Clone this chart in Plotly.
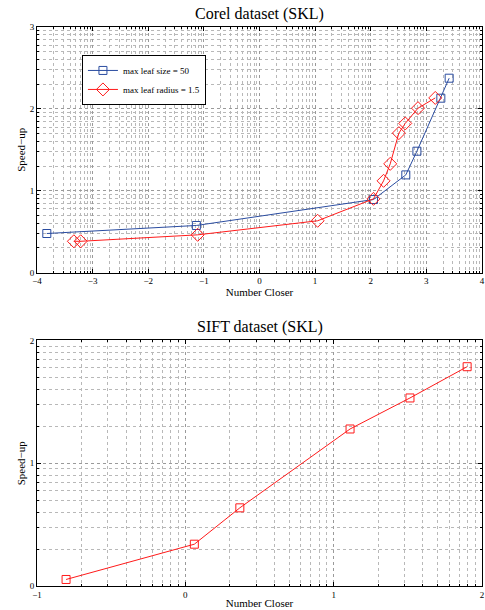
import plotly.graph_objects as go

# ---- data (axes are log10, labels show exponents) ----
corel_leaf_size_x = [1.5e-4, 0.0733, 112, 427, 676, 1820, 2570]
corel_leaf_size_y = [3.0, 3.76, 7.8, 15.6, 30.4, 135, 237]
corel_leaf_radius_x = [4.6e-4, 6.1e-4, 0.0773, 11.1, 112, 170, 224, 320, 417, 708, 1445]
corel_leaf_radius_y = [2.41, 2.41, 2.89, 4.29, 7.95, 13.2, 21.3, 50.5, 66.4, 102, 136]
sift_x = [0.157, 1.15, 2.33, 12.9, 32.7, 79.4]
sift_y = [1.13, 2.19, 4.33, 19.0, 34.0, 61.1]

top_xticks = [-4, -3, -2, -1, 0, 1, 2, 3, 4]
top_yticks = [0, 1, 2, 3]
bot_xticks = [-1, 0, 1, 2]
bot_yticks = [0, 1, 2]

def lab(k):
    return ("\u2212" + str(-k)) if k < 0 else str(k)

FONT = "Liberation Serif, Times New Roman, serif"
BLUE = "#2a4ca0"
RED = "#ff1a1a"

fig = go.Figure()
fig.add_trace(go.Scatter(x=corel_leaf_size_x, y=corel_leaf_size_y, mode="lines+markers",
                         name="max leaf size = 50", xaxis="x", yaxis="y",
                         line=dict(color=BLUE, width=1),
                         marker=dict(symbol="square-open", size=8, color=BLUE, line=dict(width=1))))
fig.add_trace(go.Scatter(x=corel_leaf_radius_x, y=corel_leaf_radius_y, mode="lines+markers",
                         name="max leaf radius = 1.5", xaxis="x", yaxis="y",
                         line=dict(color=RED, width=1),
                         marker=dict(symbol="diamond-open", size=10, color=RED, line=dict(width=1))))
fig.add_trace(go.Scatter(x=sift_x, y=sift_y, mode="lines+markers", showlegend=False,
                         xaxis="x2", yaxis="y2",
                         line=dict(color=RED, width=1),
                         marker=dict(symbol="square-open", size=8, color=RED, line=dict(width=1))))

EPS = 1e-4

def axis(ticks, rng, domain, anchor, title, standoff):
    return dict(type="log", range=[rng[0] - EPS, rng[1] + EPS], domain=domain, anchor=anchor,
                tickvals=[10 ** k for k in ticks], ticktext=[lab(k) for k in ticks],
                ticklabeloverflow="allow",
                showline=True, linecolor="black", linewidth=1, mirror="allticks",
                ticks="inside", ticklen=4, tickcolor="black",
                showgrid=True, gridcolor="#9a9a9a", griddash="dot", gridwidth=1,
                minor=dict(dtick="D1", ticks="inside", ticklen=2, tickcolor="black",
                           showgrid=True, gridcolor="#b8b8b8", griddash="dot", gridwidth=1),
                zeroline=False, automargin=False,
                tickfont=dict(family=FONT, size=9, color="black"),
                title=dict(text=title, font=dict(family=FONT, size=11, color="black"),
                           standoff=standoff))

fig.update_layout(
    width=485, height=610,
    margin=dict(l=37, r=3, t=27, b=24),
    paper_bgcolor="white", plot_bgcolor="white",
    font=dict(family=FONT, color="black"),
    xaxis=axis(top_xticks, [-4, 4], [0, 1], "y", "Number Closer", 0),
    yaxis=axis(top_yticks, [0, 3], [0.5607, 1.0], "x", "Speed\u2212up", 1),
    xaxis2=axis(bot_xticks, [-1, 2], [0, 1], "y2", "Number Closer", 0),
    yaxis2=axis(bot_yticks, [0, 2], [0, 0.4393], "x2", "Speed\u2212up", 1),
    legend=dict(x=0.101, y=0.95, xanchor="left", yanchor="top",
                bgcolor="white", bordercolor="black", borderwidth=1,
                font=dict(family=FONT, size=9, color="black"),
                tracegroupgap=0, itemwidth=30),
    annotations=[
        dict(text="Corel dataset (SKL)", x=0.5, y=1.0, xref="paper", yref="paper",
             xanchor="center", yanchor="bottom", yshift=2, showarrow=False,
             font=dict(family=FONT, size=16, color="black")),
        dict(text="SIFT dataset (SKL)", x=0.5, y=0.4393, xref="paper", yref="paper",
             xanchor="center", yanchor="bottom", yshift=2, showarrow=False,
             font=dict(family=FONT, size=16, color="black")),
    ],
)
fig.write_html("out.html", config={"displayModeBar": False},
               post_script="document.body.style.margin='0';document.body.style.overflow='hidden';")
